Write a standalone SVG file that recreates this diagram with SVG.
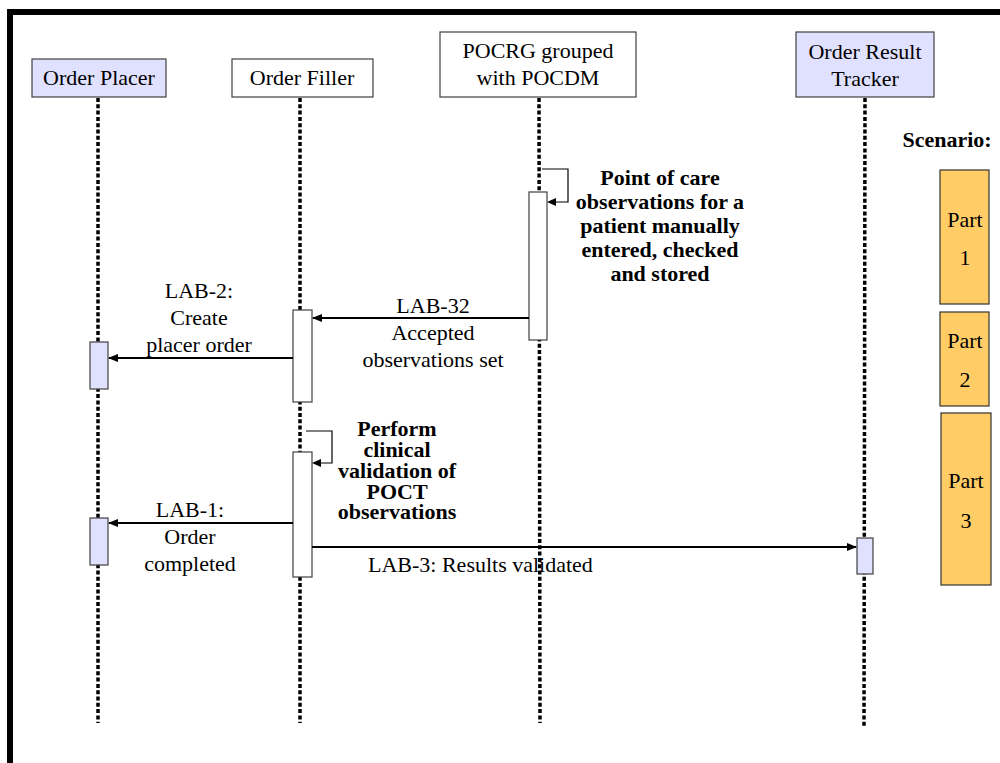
<svg xmlns="http://www.w3.org/2000/svg" width="1000" height="763" viewBox="0 0 1000 763" font-family="'Liberation Serif', 'Times New Roman', Times, serif">
<style>
text{font-family:'Liberation Serif','Times New Roman',Times,serif;font-size:22px;fill:#000;text-anchor:middle}
.b{font-weight:bold}
.box{stroke:#404040;stroke-width:1.2}
.w{fill:#fff}
.lav{fill:#E0E0FF}
.part{fill:#FFCC66;stroke:#333;stroke-width:1.2}
.life{stroke:#000;stroke-width:3.5;stroke-dasharray:4 2.3;fill:none}
.msg{stroke:#000;stroke-width:2;fill:none}
.loop{stroke:#000;stroke-width:1.2;fill:none}
</style>
<defs>
<marker id="ah" markerWidth="10" markerHeight="8" refX="9" refY="4" orient="auto" markerUnits="userSpaceOnUse">
<path d="M0,0 L10,4 L0,8 Z" fill="#000"/>
</marker>
</defs>
<rect x="0" y="0" width="1000" height="763" fill="#fff"/>
<rect x="7" y="9" width="993" height="6" fill="#000"/>
<rect x="7" y="9" width="6" height="754" fill="#000"/>

<g id="lifelines">
<line class="life" x1="98" y1="98" x2="98" y2="723"/>
<line class="life" x1="300" y1="98" x2="300" y2="723"/>
<line class="life" x1="539" y1="98" x2="540" y2="723"/>
<line class="life" x1="865" y1="98" x2="864" y2="727"/>
</g>

<g id="order-placer">
<rect class="box lav" x="32" y="59" width="134" height="38"/>
<text x="99" y="85">Order Placer</text>
<rect class="box lav" x="90" y="342" width="18" height="47"/>
<rect class="box lav" x="90" y="518" width="18" height="47"/>
</g>

<g id="order-filler">
<rect class="box w" x="232" y="59" width="141" height="38"/>
<text x="302" y="85">Order Filler</text>
<rect class="box w" x="293" y="310" width="19" height="92"/>
<rect class="box w" x="293" y="452" width="19" height="125"/>
</g>

<g id="pocrg">
<rect class="box w" x="440" y="32" width="196" height="65"/>
<text x="538" y="58">POCRG grouped</text>
<text x="538" y="85">with POCDM</text>
<rect class="box w" x="529" y="192" width="18" height="148"/>
</g>

<g id="order-result-tracker">
<rect class="box lav" x="796" y="32" width="138" height="65"/>
<text x="865" y="59">Order Result</text>
<text x="865" y="86">Tracker</text>
<rect class="box lav" x="857" y="538" width="16" height="36"/>
</g>

<g id="scenario">
<text class="b" x="947" y="147">Scenario:</text>
<rect class="part" x="940" y="170" width="49" height="134"/>
<text x="965" y="227">Part</text>
<text x="965" y="265">1</text>
<rect class="part" x="940" y="312" width="49" height="94"/>
<text x="965" y="348">Part</text>
<text x="965" y="387">2</text>
<rect class="part" x="941" y="413" width="50" height="172"/>
<text x="966" y="488">Part</text>
<text x="966" y="528">3</text>
</g>

<g id="connectors">
<path class="loop" d="M542,169 H568 V202 H552"/>
<path d="M547,202 L556,198 L556,206 Z" fill="#000"/>
<line class="msg" x1="529" y1="318" x2="313" y2="318" marker-end="url(#ah)"/>
<line class="msg" x1="293" y1="358" x2="109" y2="358" marker-end="url(#ah)"/>
<path class="loop" d="M306,431 H332 V463 H317"/>
<path d="M312,463 L321,459 L321,467 Z" fill="#000"/>
<line class="msg" x1="293" y1="523" x2="109" y2="523" marker-end="url(#ah)"/>
<line class="msg" x1="312" y1="547" x2="856" y2="547" marker-end="url(#ah)"/>
</g>

<g id="labels">
<text class="b" x="660" y="185">Point of care</text>
<text class="b" x="660" y="209">observations for a</text>
<text class="b" x="660" y="233">patient manually</text>
<text class="b" x="660" y="257">entered, checked</text>
<text class="b" x="660" y="281">and stored</text>
<text x="433" y="313">LAB-32</text>
<text x="433" y="340">Accepted</text>
<text x="433" y="367">observations set</text>
<text x="199" y="298">LAB-2:</text>
<text x="199" y="325">Create</text>
<text x="199" y="352">placer order</text>
<text class="b" x="397" y="436">Perform</text>
<text class="b" x="397" y="457">clinical</text>
<text class="b" x="397" y="478">validation of</text>
<text class="b" x="397" y="499">POCT</text>
<text class="b" x="397" y="519">observations</text>
<text x="190" y="517">LAB-1:</text>
<text x="190" y="544">Order</text>
<text x="190" y="571">completed</text>
<text x="368" y="572" style="text-anchor:start">LAB-3: Results validated</text>
</g>
</svg>
